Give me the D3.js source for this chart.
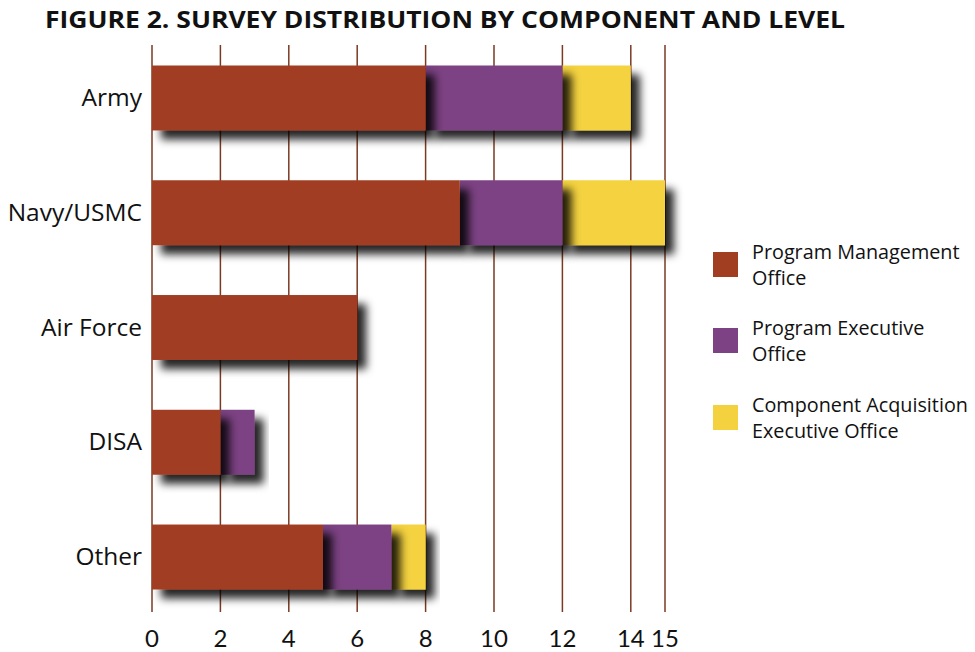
<!DOCTYPE html>
<html><head><meta charset="utf-8">
<script src="https://cdn.jsdelivr.net/npm/d3@7"></script>
<style>body{margin:0;background:#fff}svg{display:block}</style>
</head><body>
<svg id="chart" width="975" height="652"></svg>
<script>
const title = "FIGURE 2. SURVEY DISTRIBUTION BY COMPONENT AND LEVEL";
const categories = ["Army", "Navy/USMC", "Air Force", "DISA", "Other"];
const seriesNames = [["Program Management", "Office"], ["Program Executive", "Office"], ["Component Acquisition", "Executive Office"]];
const pmo = [8, 9, 6, 2, 5];
const peo = [4, 3, 0, 1, 2];
const cae = [2, 3, 0, 0, 1];
const tickValues = [0, 2, 4, 6, 8, 10, 12, 14, 15];
const colors = ["#A13E21", "#7C4283", "#F4D23F"];

const svg = d3.select("#chart");
const defs = svg.append("defs");
const f = defs.append("filter").attr("id", "shadow").attr("x", "-20%").attr("y", "-30%").attr("width", "160%").attr("height", "180%");
f.append("feDropShadow").attr("dx", 9).attr("dy", 9).attr("stdDeviation", 4.5).attr("flood-color", "#000").attr("flood-opacity", 0.85);

const x = d3.scaleLinear().domain([0, 15]).range([152, 665]);
const y = d3.scaleBand().domain(categories).range([40.6, 614.4]).paddingInner(0.434).paddingOuter(0.217);

svg.append("text").attr("x", 45).attr("y", 28).text(title)
  .attr("font-family", "'Open Sans', sans-serif").attr("font-weight", 700).attr("font-size", 22.5)
  .attr("textLength", 800).attr("lengthAdjust", "spacingAndGlyphs").attr("fill", "#111");

// grid lines
svg.append("g").selectAll("line").data(tickValues).join("line")
  .attr("x1", d => x(d)).attr("x2", d => x(d)).attr("y1", 45).attr("y2", 612)
  .attr("stroke", "#7a3a22").attr("stroke-width", 1.5);

// tick labels
svg.append("g").selectAll("text").data(tickValues).join("text")
  .attr("x", d => x(d)).attr("y", 647).attr("text-anchor", "middle")
  .attr("font-family", "Lato, sans-serif").attr("font-size", 24).attr("fill", "#111")
  .text(d => d);

// category labels
svg.append("g").selectAll("text").data(categories).join("text")
  .attr("x", 142).attr("y", d => y(d) + y.bandwidth() / 2 + 8).attr("text-anchor", "end")
  .attr("font-family", "'Open Sans', sans-serif").attr("font-size", 24.5).attr("fill", "#111")
  .text(d => d);

// stacked bars
const rows = categories.map((c, i) => ({ cat: c, vals: [pmo[i], peo[i], cae[i]] }));
const segs = [];
rows.forEach(r => {
  let acc = 0;
  r.vals.forEach((v, k) => { segs.push({ cat: r.cat, k, x0: acc, x1: acc + v }); acc += v; });
});
const drawn = segs.filter(s => s.x1 > s.x0).sort((a, b) => b.k - a.k);
svg.append("g").selectAll("rect").data(drawn).join("rect")
  .attr("x", d => x(d.x0)).attr("width", d => x(d.x1) - x(d.x0))
  .attr("y", d => y(d.cat)).attr("height", y.bandwidth())
  .attr("fill", d => colors[d.k]).attr("filter", "url(#shadow)");

// legend
const lg = svg.append("g");
const ly = [252, 328, 405];
seriesNames.forEach((n, i) => {
  lg.append("rect").attr("x", 713).attr("y", ly[i]).attr("width", 25).attr("height", 25).attr("fill", colors[i]);
  const t = lg.append("text").attr("font-family", "'Open Sans', sans-serif").attr("font-size", 19.8).attr("fill", "#111");
  n.forEach((line, j) => t.append("tspan").attr("x", 752).attr("y", ly[i] + 7 + j * 25.5).text(line));
});
</script>
</body></html>
